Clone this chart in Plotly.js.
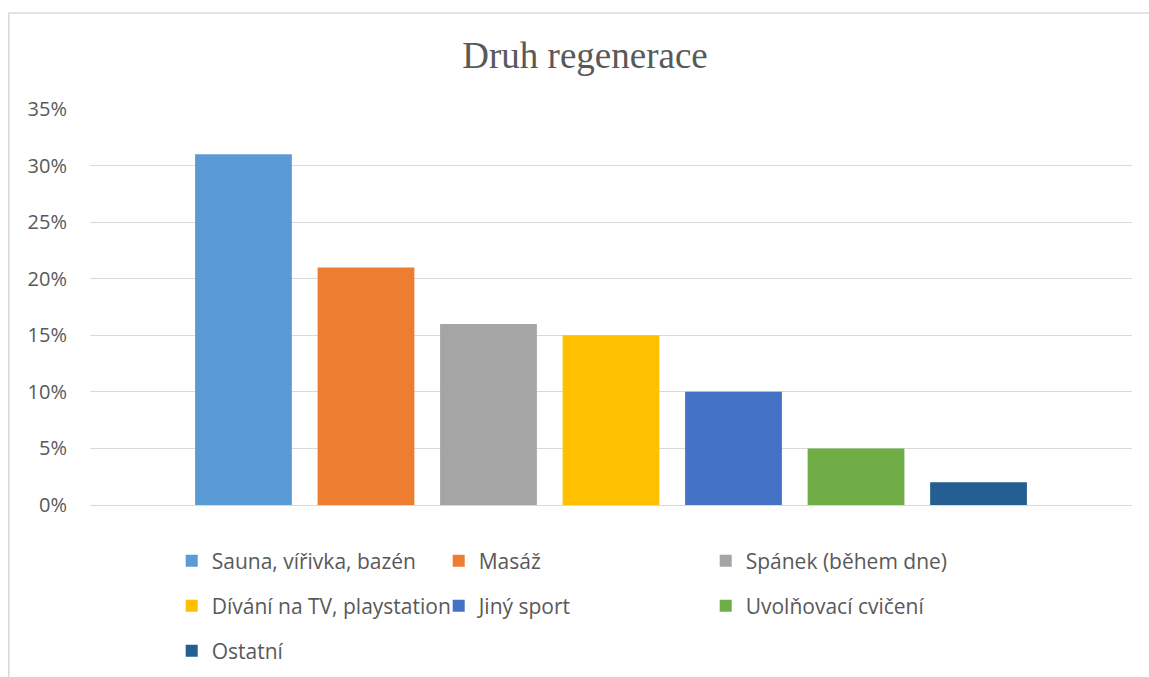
<!DOCTYPE html>
<html>
<head>
<meta charset="utf-8">
<script src="https://cdn.plot.ly/plotly-3.0.1.min.js"></script>
<style>
  html, body { margin: 0; padding: 0; background: #fff; }
  #chart { width: 1149px; height: 677px; }
</style>
</head>
<body>
<div id="chart"></div>
<script>
// Druh regenerace – share of answers per recovery type
const categories = [
  'Sauna, vířivka, bazén',
  'Masáž',
  'Spánek (během dne)',
  'Dívání na TV, playstation',
  'Jiný sport',
  'Uvolňovací cvičení',
  'Ostatní'
];
const shares = [0.31, 0.21, 0.16, 0.15, 0.10, 0.05, 0.02];
const colors = ['#5B9BD5', '#ED7D31', '#A5A5A5', '#FFC000', '#4472C4', '#70AD47', '#255E91'];
const yTickValues = [0, 0.05, 0.10, 0.15, 0.20, 0.25, 0.30, 0.35];
const yTickLabels = ['0%', '5%', '10%', '15%', '20%', '25%', '30%', '35%'];
const groupLabel = 'Druh regenerace';

// three legend rows, three entries per row
const legendIds = ['legend', 'legend', 'legend', 'legend2', 'legend2', 'legend2', 'legend3'];

const textColor = '#595959';
const gridColor = '#D9D9D9';
const font = 'Open Sans, Noto Sans, sans-serif';

const traces = categories.map((name, i) => ({
  type: 'bar',
  name: name,
  x: [groupLabel],
  y: [shares[i]],
  marker: { color: colors[i] },
  legend: legendIds[i],
  hovertemplate: '%{y:.0%}<extra>' + name + '</extra>'
}));

function legendRow(yPx) {
  return {
    orientation: 'h',
    x: 0.0784,
    xanchor: 'left',
    y: 1 - yPx / 677,
    yref: 'container',
    yanchor: 'middle',
    entrywidth: 222,
    entrywidthmode: 'pixels',
    font: { family: font, size: 21, color: textColor },
    bgcolor: 'rgba(0,0,0,0)',
    traceorder: 'normal'
  };
}

// chart-area frame: top and left edges
const frameLeft = (8.8 - 90) / 1042;
const frameTop = (505 - 13) / 396;

const layout = {
  width: 1149,
  height: 677,
  margin: { l: 90, r: 17, t: 109, b: 172 },
  paper_bgcolor: '#FFFFFF',
  plot_bgcolor: '#FFFFFF',
  title: {
    text: groupLabel,
    font: { family: 'Liberation Serif, Times New Roman, serif', size: 37, color: textColor },
    x: 585 / 1149,
    xref: 'container',
    xanchor: 'center',
    y: 1 - 55 / 677,
    yref: 'container',
    yanchor: 'middle'
  },
  barmode: 'group',
  bargap: 0.177,
  bargroupgap: 0.21,
  xaxis: {
    type: 'category',
    showticklabels: false,
    showgrid: false,
    showline: false,
    zeroline: false,
    ticks: ''
  },
  yaxis: {
    range: [0, 0.35],
    tickvals: yTickValues,
    ticktext: yTickLabels,
    showgrid: true,
    gridcolor: gridColor,
    gridwidth: 1.3,
    zeroline: true,
    zerolinecolor: gridColor,
    zerolinewidth: 1.3,
    showline: false,
    automargin: false,
    ticks: 'outside',
    ticklen: 18,
    tickcolor: 'rgba(0,0,0,0)',
    tickfont: { family: font, size: 20, color: textColor }
  },
  legend: legendRow(561),
  legend2: legendRow(606),
  legend3: legendRow(651),
  shapes: [
    {
      type: 'line', xref: 'paper', yref: 'paper',
      x0: frameLeft, x1: 1.02, y0: frameTop, y1: frameTop,
      line: { color: gridColor, width: 1.5 }, layer: 'below'
    },
    {
      type: 'line', xref: 'paper', yref: 'paper',
      x0: frameLeft, x1: frameLeft, y0: frameTop, y1: -0.5,
      line: { color: gridColor, width: 1.5 }, layer: 'below'
    }
  ]
};

Plotly.newPlot('chart', traces, layout, { displayModeBar: false });
</script>
</body>
</html>
